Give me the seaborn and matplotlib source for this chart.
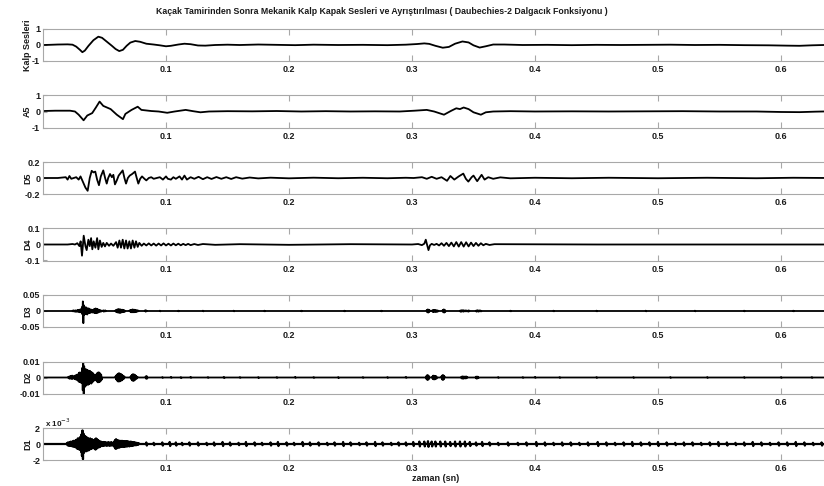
import numpy as np
import pandas as pd
import matplotlib
matplotlib.use("Agg")
import matplotlib.pyplot as plt
import seaborn as sns

title = ("Kaçak Tamirinden Sonra Mekanik Kalp Kapak Sesleri ve Ayrıştırılması "
         "( Daubechies-2 Dalgacık Fonksiyonu )")
panel_names = ["Kalp Sesleri", "A5", "D5", "D4", "D3", "D2", "D1"]
x_ticks = [0.1, 0.2, 0.3, 0.4, 0.5, 0.6]
x_tick_text = ["0.1", "0.2", "0.3", "0.4", "0.5", "0.6"]
y_limits = [1, 1, 0.2, 0.1, 0.05, 0.01, 2]
y_tick_text = [["-1", "0", "1"], ["-1", "0", "1"], ["-0.2", "0", "0.2"],
               ["-0.1", "0", "0.1"], ["-0.05", "0", "0.05"],
               ["-0.01", "0", "0.01"], ["-2", "0", "2"]]

# key points: (time in s, amplitude)
kalp = [(0.000, 0.00), (0.005, 0.01), (0.012, 0.03), (0.020, 0.04), (0.024, 0.02),
        (0.027, -0.10), (0.030, -0.30), (0.032, -0.45), (0.034, -0.35), (0.037, -0.05),
        (0.041, 0.30), (0.045, 0.52), (0.048, 0.45), (0.052, 0.20), (0.056, -0.05),
        (0.059, -0.25), (0.062, -0.38), (0.065, -0.30), (0.068, -0.05), (0.071, 0.15),
        (0.075, 0.25), (0.079, 0.20), (0.084, 0.08), (0.090, 0.03), (0.095, -0.02),
        (0.100, -0.08), (0.104, -0.05), (0.110, 0.03), (0.115, 0.08), (0.120, 0.05),
        (0.126, -0.03), (0.132, -0.04), (0.140, 0.00), (0.150, 0.02), (0.160, 0.00),
        (0.175, 0.03), (0.190, 0.01), (0.205, -0.01), (0.220, 0.02), (0.240, 0.00),
        (0.260, 0.01), (0.280, -0.01), (0.295, 0.02), (0.304, 0.06), (0.310, 0.10),
        (0.314, 0.07), (0.319, -0.05), (0.325, -0.17), (0.330, -0.12), (0.335, 0.08),
        (0.341, 0.22), (0.346, 0.16), (0.350, -0.02), (0.355, -0.16), (0.360, -0.08),
        (0.366, 0.03), (0.375, 0.03), (0.390, 0.00), (0.410, 0.01), (0.430, -0.01),
        (0.450, 0.01), (0.470, 0.00), (0.490, 0.01), (0.510, 0.02), (0.530, 0.00),
        (0.550, 0.01), (0.570, -0.01), (0.590, -0.02), (0.605, -0.04), (0.615, -0.05),
        (0.625, -0.02), (0.640, 0.01)]

a5 = [(0.000, 0.03), (0.010, 0.05), (0.022, 0.05), (0.026, 0.00), (0.029, -0.20),
      (0.033, -0.55), (0.036, -0.25), (0.040, -0.10), (0.043, 0.25), (0.046, 0.62),
      (0.049, 0.35), (0.055, 0.15), (0.060, -0.20), (0.065, -0.48), (0.067, -0.15),
      (0.072, 0.10), (0.077, 0.30), (0.080, 0.10), (0.088, 0.03), (0.094, 0.00),
      (0.101, -0.08), (0.107, 0.00), (0.116, 0.10), (0.122, 0.02), (0.128, -0.05),
      (0.135, 0.00), (0.150, 0.02), (0.170, 0.01), (0.190, 0.03), (0.210, 0.00),
      (0.230, 0.02), (0.250, 0.00), (0.270, 0.01), (0.290, 0.00), (0.302, 0.05),
      (0.312, 0.10), (0.318, 0.00), (0.326, -0.20), (0.332, 0.05), (0.336, 0.20),
      (0.339, 0.15), (0.342, 0.25), (0.346, 0.15), (0.350, -0.05), (0.356, -0.20),
      (0.360, -0.05), (0.366, 0.00), (0.380, 0.02), (0.400, 0.00), (0.430, 0.01),
      (0.460, 0.00), (0.490, 0.01), (0.520, 0.02), (0.550, 0.00), (0.580, 0.00),
      (0.600, -0.03), (0.615, -0.04), (0.628, -0.01), (0.640, 0.01)]

d5 = [(0.000, 0.00), (0.012, 0.00), (0.0185, 0.01), (0.020, -0.02), (0.0215, 0.025),
      (0.023, -0.01), (0.025, 0.00), (0.027, 0.01), (0.029, -0.02), (0.0305, 0.02),
      (0.0325, -0.05), (0.0345, -0.12), (0.0363, -0.16), (0.0380, 0.00), (0.0396, 0.09),
      (0.0410, 0.07), (0.0425, 0.08), (0.0440, -0.02), (0.0455, -0.09), (0.0470, 0.02),
      (0.0490, 0.095), (0.0505, 0.00), (0.0518, -0.07), (0.0530, 0.00), (0.0545, 0.05),
      (0.0560, 0.01), (0.0572, 0.04), (0.0585, -0.08), (0.0600, -0.03), (0.0615, 0.03),
      (0.0648, 0.095), (0.0662, 0.00), (0.0675, -0.07), (0.0690, 0.00), (0.0705, 0.03),
      (0.0725, 0.05), (0.0748, 0.08), (0.0762, 0.00), (0.0775, -0.07), (0.0790, -0.01),
      (0.0805, 0.02), (0.0825, -0.01), (0.0840, -0.03), (0.0860, 0.00), (0.0880, 0.01),
      (0.0900, -0.01), (0.0925, 0.00), (0.0950, 0.01), (0.0975, -0.02), (0.1000, 0.02),
      (0.1015, -0.01), (0.1040, -0.02), (0.1060, 0.01), (0.1080, -0.01), (0.1110, 0.02),
      (0.1130, -0.02), (0.1150, 0.03), (0.1170, -0.02), (0.1200, 0.01), (0.1230, -0.01),
      (0.1265, 0.015), (0.1300, -0.015), (0.1335, 0.01), (0.1370, -0.012), (0.1410, 0.012),
      (0.1450, -0.01), (0.1490, 0.01), (0.1530, -0.012), (0.1570, 0.01), (0.1620, -0.008),
      (0.1680, 0.006), (0.1750, -0.005), (0.1850, 0.004), (0.2000, -0.004), (0.2200, 0.004),
      (0.2400, -0.003), (0.2600, 0.003), (0.2800, -0.003), (0.2950, 0.003), (0.3014, 0.000),
      (0.3081, 0.010), (0.3120, -0.010), (0.3160, 0.015), (0.3200, -0.010), (0.3240, 0.010),
      (0.3285, -0.035), (0.3312, 0.025), (0.3344, -0.020), (0.3380, 0.020), (0.3417, 0.055),
      (0.3438, -0.010), (0.3458, -0.045), (0.3485, 0.010), (0.3500, 0.030), (0.3530, -0.040),
      (0.3566, 0.040), (0.3590, -0.020), (0.3620, 0.010), (0.3660, -0.010), (0.3718, 0.008),
      (0.3800, -0.004), (0.4000, 0.003), (0.4300, -0.003), (0.4600, 0.003), (0.5000, -0.003),
      (0.5400, 0.003), (0.5800, -0.003), (0.6100, 0.003), (0.6400, 0.000)]

d4 = [(0.000, 0.00), (0.020, 0.00), (0.024, 0.003), (0.026, 0.000), (0.0279, 0.008),
      (0.0296, -0.010), (0.0306, 0.020), (0.0317, -0.070), (0.0331, 0.055), (0.0345, -0.010),
      (0.0355, -0.035), (0.0369, 0.030), (0.0380, -0.010), (0.0391, 0.040), (0.0401, -0.030),
      (0.0412, 0.020), (0.0426, -0.020), (0.0440, 0.040), (0.0450, -0.030), (0.0463, 0.025),
      (0.0477, -0.015), (0.0490, 0.010), (0.0504, -0.012), (0.0518, 0.010), (0.0537, -0.008),
      (0.0553, 0.006), (0.0572, -0.008), (0.0594, 0.015), (0.0607, -0.020), (0.0621, 0.025),
      (0.0634, -0.020), (0.0648, 0.030), (0.0661, -0.025), (0.0675, 0.025), (0.0688, -0.025),
      (0.0702, 0.020), (0.0715, -0.025), (0.0729, 0.025), (0.0743, -0.020), (0.0756, 0.020),
      (0.0770, -0.015), (0.0783, 0.010), (0.0802, -0.008), (0.0820, 0.006), (0.0840, -0.006),
      (0.0860, 0.007), (0.0880, -0.006), (0.0900, 0.006), (0.0920, -0.007), (0.0940, 0.006),
      (0.0960, -0.006), (0.0980, 0.007), (0.1000, -0.006), (0.1020, 0.005), (0.1040, -0.006),
      (0.1060, 0.006), (0.1080, -0.005), (0.1100, 0.005), (0.1120, -0.005), (0.1140, 0.004),
      (0.1160, -0.004), (0.1180, 0.004), (0.1200, -0.004), (0.1230, 0.003), (0.1260, -0.003),
      (0.1300, 0.003), (0.1400, -0.002), (0.1600, 0.002), (0.2000, -0.002), (0.2500, 0.002),
      (0.3000, 0.000), (0.3050, 0.003), (0.3080, -0.004), (0.3100, 0.005), (0.3112, 0.030),
      (0.3122, 0.000), (0.3134, -0.035), (0.3146, -0.005), (0.3160, 0.004), (0.3180, -0.003),
      (0.3200, 0.004), (0.3220, -0.006), (0.3240, 0.008), (0.3260, -0.008), (0.3280, 0.010),
      (0.3300, -0.010), (0.3320, 0.012), (0.3340, -0.012), (0.3360, 0.015), (0.3380, -0.013),
      (0.3400, 0.015), (0.3420, -0.013), (0.3440, 0.014), (0.3460, -0.012), (0.3480, 0.012),
      (0.3500, -0.010), (0.3520, 0.010), (0.3540, -0.008), (0.3560, 0.008), (0.3580, -0.005),
      (0.3600, 0.004), (0.3630, -0.003), (0.3670, 0.002), (0.4500, 0.000), (0.6400, 0.000)]

# dense bursts: (start time, samples every 0.4 ms)
burst_dt = 0.0004
d3_bursts = [
    (0.0240, [0.001, -0.001, 0.002, -0.001, 0.001, -0.002, 0.002, -0.002, 0.001, -0.002,
              0.003, -0.002, 0.003, -0.003, 0.004, -0.004, 0.005, -0.004, 0.006]),
    (0.0316, [0.012, -0.010, 0.030, -0.038, 0.018, -0.012]),
    (0.0340, [0.010, -0.008, 0.012, -0.010, 0.009, -0.011, 0.008, -0.007, 0.008, -0.006,
              0.005, -0.006, 0.005, -0.004, 0.004, -0.005, 0.003, -0.004, 0.005, -0.006,
              0.007, -0.006, 0.008, -0.007, 0.007, -0.006, 0.006, -0.005, 0.004, -0.003,
              0.003, -0.002, 0.002, -0.002, 0.001]),
    (0.0490, [0.002, -0.002, 0.001, -0.001, 0.002, -0.001]),
    (0.0590, [0.002, -0.003, 0.004, -0.004, 0.005, -0.005, 0.006, -0.005, 0.005, -0.006,
              0.005, -0.005, 0.004, -0.004, 0.004, -0.003, 0.003, -0.003, 0.002, -0.002]),
    (0.0705, [0.002, -0.002, 0.003, -0.004, 0.004, -0.004, 0.005, -0.004, 0.004, -0.004,
              0.004, -0.003, 0.003, -0.003, 0.002, -0.002, 0.002, -0.001, 0.001]),
    (0.0830, [0.002, -0.002, 0.002, -0.001]),
    (0.0950, [0.001, -0.001]), (0.1100, [0.001, -0.001]), (0.1300, [0.001, -0.001]),
    (0.1550, [0.001, -0.001]), (0.1800, [0.001, -0.001]), (0.2100, [0.001, -0.001]),
    (0.2450, [0.001, -0.001]), (0.2750, [0.001, -0.001]),
    (0.3120, [0.003, -0.004, 0.005, -0.005, 0.004, -0.003, 0.002]),
    (0.3165, [0.002, -0.003, 0.003, -0.003, 0.003, -0.002, 0.003, -0.003, 0.002, -0.002,
              0.002, -0.002, 0.001]),
    (0.3250, [0.003, -0.004, 0.005, -0.005, 0.004, -0.003]),
    (0.3390, [0.001, -0.002, 0.002, -0.002, 0.002, -0.001, 0.002, -0.002, 0.002, -0.001,
              0.001, -0.001, 0.002, -0.001, 0.001, -0.001, 0.001, -0.002, 0.002, -0.001]),
    (0.3520, [0.001, -0.002, 0.002, -0.001, 0.002, -0.002, 0.001, -0.001, 0.002, -0.001,
              0.001, -0.001]),
    (0.3800, [0.001, -0.001]), (0.4150, [0.001, -0.001]), (0.4500, [0.001, -0.001]),
    (0.4900, [0.001, -0.001]), (0.5300, [0.001, -0.001]), (0.5700, [0.001, -0.001]),
    (0.6100, [0.001, -0.001]),
]

d2_bursts = [
    (0.0205, [0.0004, -0.0005, 0.0006, -0.0008, 0.0008, -0.0006, 0.0010, -0.0009, 0.0012,
              -0.0008, 0.0007, -0.0005, 0.0009, -0.0010, 0.0012, -0.0012, 0.0015, -0.0014,
              0.0018, -0.0016]),
    (0.0285, [0.0020, -0.0025, 0.0030, -0.0028, 0.0032, -0.0030, 0.0028, -0.0035, 0.0040]),
    (0.0319, [0.0060, -0.0080, 0.0090, -0.0105, 0.0070, -0.0060]),
    (0.0341, [0.0050, -0.0045, 0.0052, -0.0050, 0.0048, -0.0042, 0.0045, -0.0045, 0.0038,
              -0.0040, 0.0042, -0.0036, 0.0035, -0.0038, 0.0032, -0.0030, 0.0028, -0.0024,
              0.0020, -0.0018]),
    (0.0425, [0.0012, -0.0015, 0.0020, -0.0024, 0.0028, -0.0030, 0.0032, -0.0030, 0.0031,
              -0.0028, 0.0025, -0.0022, 0.0018, -0.0014]),
    (0.0590, [0.0008, -0.0012, 0.0016, -0.0020, 0.0022, -0.0025, 0.0026, -0.0025, 0.0026,
              -0.0024, 0.0022, -0.0020, 0.0020, -0.0018, 0.0015, -0.0012, 0.0010, -0.0008,
              0.0006]),
    (0.0712, [0.0006, -0.0010, 0.0014, -0.0018, 0.0020, -0.0021, 0.0020, -0.0020, 0.0018,
              -0.0016, 0.0013, -0.0010, 0.0008, -0.0006, 0.0004]),
    (0.0835, [0.0007, -0.0008, 0.0009, -0.0007]),
    (0.0970, [0.0003, -0.0003]), (0.1040, [0.0004, -0.0003]), (0.1120, [0.0003, -0.0004]),
    (0.1200, [0.0004, -0.0003]), (0.1340, [0.0003, -0.0003]), (0.1470, [0.0004, -0.0004]),
    (0.1600, [0.0003, -0.0003]), (0.1750, [0.0003, -0.0004]), (0.1900, [0.0003, -0.0003]),
    (0.2050, [0.0004, -0.0003]), (0.2200, [0.0003, -0.0003]), (0.2400, [0.0003, -0.0004]),
    (0.2600, [0.0003, -0.0003]), (0.2800, [0.0003, -0.0003]), (0.2950, [0.0004, -0.0003]),
    (0.3115, [0.0008, -0.0012, 0.0015, -0.0016, 0.0014, -0.0012, 0.0008]),
    (0.3165, [0.0006, -0.0010, 0.0012, -0.0012, 0.0011, -0.0012, 0.0010, -0.0009, 0.0008,
              -0.0006]),
    (0.3240, [0.0008, -0.0012, 0.0015, -0.0016, 0.0014, -0.0011, 0.0007]),
    (0.3400, [0.0004, -0.0006, 0.0007, -0.0007, 0.0006, -0.0007, 0.0006, -0.0005, 0.0005,
              -0.0006, 0.0007, -0.0005, 0.0004]),
    (0.3520, [0.0005, -0.0007, 0.0006, -0.0006, 0.0005, -0.0004]),
    (0.3700, [0.0003, -0.0003]), (0.3900, [0.0003, -0.0003]), (0.4000, [0.0004, -0.0003]),
    (0.4200, [0.0003, -0.0003]), (0.4500, [0.0003, -0.0003]), (0.4800, [0.0003, -0.0003]),
    (0.5100, [0.0003, -0.0003]), (0.5400, [0.0003, -0.0003]), (0.5700, [0.0003, -0.0003]),
    (0.6000, [0.0003, -0.0003]), (0.6250, [0.0003, -0.0003]),
]

# D1 in units of 1e-3
d1_bursts = [
    (0.0195, [0.1, -0.15, 0.2, -0.2, 0.15, -0.2, 0.25, -0.2, 0.3, -0.25, 0.2, -0.3, 0.35,
              -0.3, 0.4, -0.35, 0.3, -0.4, 0.5, -0.45]),
    (0.0275, [0.5, -0.6, 0.7, -0.6, 0.6, -0.7, 0.8, -0.7, 0.9, -1.0]),
    (0.0313, [1.2, -1.5, 1.7, -1.9, 1.3, -1.1]),
    (0.0335, [0.9, -0.8, 1.0, -0.9, 0.8, -0.9, 0.8, -0.7, 0.7, -0.8, 0.6, -0.7, 0.7, -0.6,
              0.5, -0.6, 0.6, -0.5, 0.5, -0.4, 0.5, -0.6, 0.6, -0.7, 0.7, -0.6, 0.6, -0.5,
              0.5, -0.4]),
    (0.0455, [0.4, -0.4, 0.3, -0.3, 0.3, -0.25, 0.2, -0.25, 0.2, -0.2, 0.25, -0.2, 0.2,
              -0.15, 0.2, -0.2, 0.15, -0.2, 0.2, -0.15, 0.2, -0.2, 0.15, -0.2, 0.2, -0.15,
              0.2, -0.2]),
    (0.0578, [0.3, -0.4, 0.5, -0.6, 0.6, -0.55, 0.5, -0.5, 0.45, -0.4, 0.4, -0.45, 0.4,
              -0.35, 0.35, -0.35, 0.4, -0.3, 0.35, -0.35, 0.3, -0.35, 0.35, -0.3, 0.3, -0.3,
              0.35, -0.3, 0.3, -0.25, 0.3, -0.3, 0.25, -0.25, 0.3, -0.25, 0.25, -0.2, 0.2,
              -0.2, 0.2, -0.15, 0.2, -0.15, 0.15, -0.15, 0.15, -0.1, 0.1, -0.1, 0.1]),
]
# small spikes along the rest of the D1 trace: (time, size in 1e-3)
d1_blips = [(0.084, 0.2), (0.090, 0.15), (0.097, 0.2), (0.103, 0.25), (0.108, 0.2),
            (0.113, 0.15), (0.119, 0.2), (0.126, 0.2), (0.133, 0.15), (0.139, 0.2),
            (0.146, 0.25), (0.152, 0.2), (0.159, 0.15), (0.165, 0.25), (0.172, 0.2),
            (0.178, 0.15), (0.185, 0.2), (0.191, 0.25), (0.198, 0.2), (0.204, 0.15),
            (0.211, 0.25), (0.217, 0.2), (0.224, 0.2), (0.231, 0.15), (0.237, 0.2),
            (0.244, 0.25), (0.250, 0.2), (0.257, 0.15), (0.263, 0.2), (0.270, 0.25),
            (0.276, 0.2), (0.283, 0.15), (0.289, 0.2), (0.295, 0.2), (0.301, 0.25),
            (0.306, 0.3), (0.310, 0.3), (0.313, 0.35), (0.316, 0.3), (0.319, 0.3),
            (0.323, 0.3), (0.327, 0.3), (0.331, 0.25), (0.335, 0.3), (0.339, 0.3),
            (0.343, 0.3), (0.347, 0.25), (0.352, 0.2), (0.357, 0.25), (0.363, 0.2),
            (0.370, 0.15), (0.378, 0.2), (0.386, 0.15), (0.393, 0.2), (0.401, 0.25),
            (0.408, 0.2), (0.415, 0.15), (0.422, 0.2), (0.429, 0.2), (0.436, 0.15),
            (0.443, 0.2), (0.451, 0.25), (0.458, 0.2), (0.465, 0.15), (0.472, 0.2),
            (0.479, 0.25), (0.486, 0.2), (0.493, 0.2), (0.500, 0.25), (0.507, 0.2),
            (0.514, 0.15), (0.521, 0.2), (0.528, 0.2), (0.535, 0.15), (0.542, 0.2),
            (0.549, 0.25), (0.556, 0.2), (0.563, 0.15), (0.570, 0.2), (0.577, 0.25),
            (0.584, 0.2), (0.591, 0.15), (0.598, 0.2), (0.605, 0.2), (0.612, 0.25),
            (0.619, 0.2), (0.626, 0.15), (0.633, 0.2)]


def burst_frame(bursts):
    pts = [(0.0, 0.0), (0.64, 0.0)]
    for t0, vals in bursts:
        pts.append((t0 - burst_dt, 0.0))
        pts += [(t0 + i * burst_dt, v) for i, v in enumerate(vals)]
        pts.append((t0 + len(vals) * burst_dt, 0.0))
    return pd.DataFrame(pts, columns=["t", "v"])


frames = [pd.DataFrame(kalp, columns=["t", "v"]),
          pd.DataFrame(a5, columns=["t", "v"]),
          pd.DataFrame(d5, columns=["t", "v"]),
          pd.DataFrame(d4, columns=["t", "v"]),
          burst_frame(d3_bursts),
          burst_frame(d2_bursts),
          burst_frame(d1_bursts + [(t, [a, -a]) for t, a in d1_blips])]

sns.set_theme(style="white")
plt.rcParams["font.family"] = ["Liberation Sans", "DejaVu Sans"]

fig = plt.figure(figsize=(8.24, 4.86), dpi=100)
frame_col = "#a8a8a8"
text_col = "#1a1a1a"

for i, (name, df) in enumerate(zip(panel_names, frames)):
    top_px = 29 + 66.5 * i
    ax = fig.add_axes([43 / 824, 1 - (top_px + 32) / 486, 781 / 824, 32 / 486])
    sns.lineplot(data=df, x="t", y="v", ax=ax, color="black",
                 linewidth=1.6 if i == 6 else 1.3, estimator=None, sort=True)
    lim = y_limits[i]
    ax.set_xlim(0, 781 / 1230)
    ax.set_ylim(-lim, lim)
    ax.set_xticks(x_ticks)
    ax.set_xticklabels(x_tick_text)
    ax.set_yticks([-lim, 0, lim])
    ax.set_yticklabels(y_tick_text[i])
    ax.tick_params(axis="x", direction="in", top=True, bottom=True, length=4,
                   width=0.8, color=frame_col, pad=3, labelsize=6.5, labelcolor=text_col)
    ax.tick_params(axis="y", direction="in", left=True, length=3, width=0.8,
                   color=frame_col, pad=2, labelsize=6.5, labelcolor=text_col)
    for lab in ax.get_xticklabels() + ax.get_yticklabels():
        lab.set_fontweight("bold")
    for side in ["left", "top", "bottom"]:
        ax.spines[side].set_color(frame_col)
        ax.spines[side].set_linewidth(0.8)
    ax.spines["right"].set_visible(False)
    ax.set_xlabel("")
    ax.set_ylabel(name, fontsize=6.5, fontweight="bold", color=text_col)
    ax.yaxis.set_label_coords(-11 / 781, 0.5)
    ax.set_facecolor("white")

fig.text(45 / 824, 1 - 423 / 486, "x 10$^{-3}$", fontsize=5.8, fontweight="bold",
         color=text_col, ha="left", va="center")
fig.text(382 / 824, 1 - 12 / 486, title, fontsize=6.3, fontweight="bold",
         color=text_col, ha="center", va="center")
fig.text(436 / 824, 1 - 478 / 486, "zaman (sn)", fontsize=6.5, fontweight="bold",
         color=text_col, ha="center", va="center")

fig.savefig("out.png", dpi=100, facecolor="white")
